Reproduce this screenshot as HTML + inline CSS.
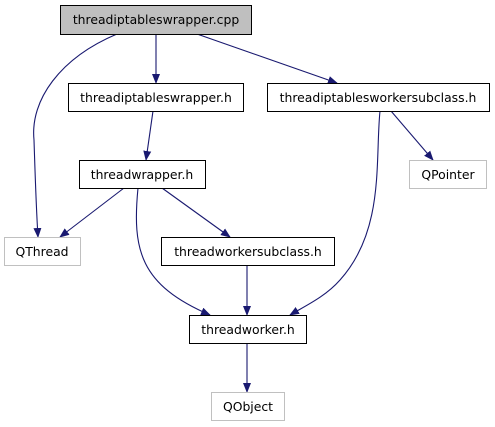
<!DOCTYPE html>
<html><head><style>html,body{margin:0;padding:0;background:#fff}svg{display:block}</style></head>
<body>
<svg width="495" height="427" viewBox="0 0 495 427" xmlns="http://www.w3.org/2000/svg" font-family="DejaVu Sans, Liberation Sans, sans-serif" font-size="12.4">
<defs><marker id="a" markerWidth="10" markerHeight="10" refX="9" refY="5" orient="auto" markerUnits="userSpaceOnUse"><path d="M0,1 L10,5 L0,9 z" fill="#191970"/></marker></defs>
<g fill="none" stroke="#191970" stroke-width="1.1" marker-end="url(#a)">
<path d="M117,34 C60,58 30,100 34,140 C35,170 36,205 38,237"/>
<path d="M156,34 L156,83"/>
<path d="M197,34 L337,83"/>
<path d="M153,111 L146,160"/>
<path d="M391,111 L433,160"/>
<path d="M380,111 C375,160 385,230 340,280 C325,297 305,306 290,315"/>
<path d="M124,188 L60,237"/>
<path d="M138,188 C132,250 140,285 210,315"/>
<path d="M162,188 L230,237"/>
<path d="M247,266 L247,315"/>
<path d="M247,343 L247,392"/>
</g>
<g stroke-width="1">
<rect x="60.5" y="5.5" width="191" height="29" fill="#bfbfbf" stroke="#000"/>
<rect x="68.5" y="83.5" width="175" height="28" fill="#fff" stroke="#000"/>
<rect x="267.5" y="83.5" width="222" height="28" fill="#fff" stroke="#000"/>
<rect x="79.5" y="160.5" width="126" height="28" fill="#fff" stroke="#000"/>
<rect x="409.5" y="160.5" width="77" height="28" fill="#fff" stroke="#c0c0c0"/>
<rect x="4.5" y="237.5" width="76" height="28" fill="#fff" stroke="#c0c0c0"/>
<rect x="161.5" y="237.5" width="173" height="28" fill="#fff" stroke="#000"/>
<rect x="189.5" y="315.5" width="117" height="28" fill="#fff" stroke="#000"/>
<rect x="211.5" y="392.5" width="73" height="28" fill="#fff" stroke="#c0c0c0"/>
</g>
<g fill="#000" text-anchor="middle">
<text x="156" y="24">threadiptableswrapper.cpp</text>
<text x="156" y="102">threadiptableswrapper.h</text>
<text x="378" y="102">threadiptablesworkersubclass.h</text>
<text x="142" y="179">threadwrapper.h</text>
<text x="448" y="179">QPointer</text>
<text x="42" y="256">QThread</text>
<text x="248" y="256">threadworkersubclass.h</text>
<text x="248" y="334">threadworker.h</text>
<text x="248" y="411">QObject</text>
</g>
</svg>
</body></html>
